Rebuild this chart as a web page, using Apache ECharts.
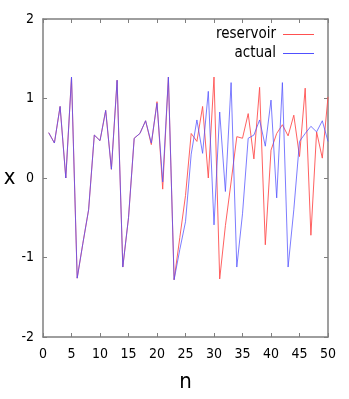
<!DOCTYPE html>
<html>
<head>
<meta charset="utf-8">
<script src="https://cdn.jsdelivr.net/npm/echarts@6/dist/echarts.min.js"></script>
<style>
  html, body { margin: 0; padding: 0; background: #fff; }
  #chart { width: 349px; height: 399px; }
</style>
</head>
<body>
<div id="chart"></div>
<script>
// n = 1..50
const steps = [
  1, 2, 3, 4, 5, 6, 7, 8, 9, 10,
  11, 12, 13, 14, 15, 16, 17, 18, 19, 20,
  21, 22, 23, 24, 25, 26, 27, 28, 29, 30,
  31, 32, 33, 34, 35, 36, 37, 38, 39, 40,
  41, 42, 43, 44, 45, 46, 47, 48, 49, 50
]

const reservoir = [
  0.57, 0.44, 0.90, 0.00, 1.27, -1.26, -0.82, -0.40, 0.54, 0.47,
  0.85, 0.11, 1.23, -1.12, -0.50, 0.50, 0.56, 0.72, 0.42, 0.96,
  -0.14, 1.27, -1.28, -0.75, -0.22, 0.56, 0.46, 0.90, 0.00, 1.27,
  -1.27, -0.60, -0.05, 0.52, 0.50, 0.81, 0.24, 1.14, -0.84, 0.35,
  0.56, 0.67, 0.53, 0.79, 0.27, 1.13, -0.72, 0.58, 0.25, 1.02
]

const actual = [
  0.57, 0.44, 0.90, 0.00, 1.27, -1.26, -0.82, -0.40, 0.54, 0.47,
  0.85, 0.11, 1.23, -1.12, -0.50, 0.50, 0.56, 0.72, 0.44, 0.94,
  -0.05, 1.27, -1.28, -0.90, -0.55, 0.30, 0.73, 0.31, 1.09, -0.59,
  0.83, -0.17, 1.20, -1.12, -0.45, 0.50, 0.54, 0.73, 0.40, 0.98,
  -0.25, 1.20, -1.12, -0.40, 0.46, 0.56, 0.65, 0.58, 0.72, 0.46
]

const font = '"DejaVu Sans Condensed", "Liberation Sans Narrow", "Liberation Sans", sans-serif'
const frame = { color: '#7f7f7f', width: 1.5 }
const tick = { show: true, inside: true, length: 4, lineStyle: { color: '#7f7f7f', width: 1 } }

const chart = echarts.init(document.getElementById('chart'), null, { renderer: 'canvas' })

// mirror axes for the box frame (top and right)
const mirrorAxis = {
  axisLine: { show: true, onZero: false, lineStyle: frame },
  axisTick: tick,
  axisLabel: { show: false },
  splitLine: { show: false }
}

chart.setOption({
  animation: false,
  textStyle: { fontFamily: font },
  grid: { left: 43, right: 21, top: 19, bottom: 62 },
  legend: {
    orient: 'vertical',
    right: 30,
    top: 22,
    align: 'right',
    itemWidth: 31,
    itemHeight: 1,
    itemGap: 4,
    icon: 'rect',
    textStyle: { fontFamily: font, fontSize: 15, color: '#000', padding: [0, 2, 0, 0] },
    data: ['reservoir', 'actual']
  },
  xAxis: [
    {
      type: 'value',
      min: 0,
      max: 50,
      interval: 5,
      position: 'bottom',
      name: 'n',
      nameLocation: 'middle',
      nameGap: 34,
      nameTextStyle: { fontSize: 22, color: '#000', fontFamily: font },
      axisLine: { show: true, onZero: false, lineStyle: frame },
      axisTick: tick,
      axisLabel: { color: '#000', fontSize: 14, margin: 10, fontFamily: font },
      splitLine: { show: false }
    },
    Object.assign({ type: 'value', min: 0, max: 50, interval: 5, position: 'top' }, mirrorAxis)
  ],
  yAxis: [
    {
      type: 'value',
      min: -2,
      max: 2,
      interval: 1,
      position: 'left',
      name: 'x',
      nameLocation: 'middle',
      nameGap: 27,
      nameRotate: 0,
      nameTextStyle: { fontSize: 22, color: '#000', fontFamily: font },
      axisLine: { show: true, onZero: false, lineStyle: frame },
      axisTick: tick,
      axisLabel: { color: '#000', fontSize: 14, margin: 9, fontFamily: font },
      splitLine: { show: false }
    },
    Object.assign({ type: 'value', min: -2, max: 2, interval: 1, position: 'right' }, mirrorAxis)
  ],
  series: [
    {
      name: 'reservoir',
      type: 'line',
      data: steps.map((n, i) => [n, reservoir[i]]),
      showSymbol: false,
      symbol: 'none',
      color: '#ff5050',
      lineStyle: { width: 1, color: '#ff5050', opacity: 0.9 }
    },
    {
      name: 'actual',
      type: 'line',
      data: steps.map((n, i) => [n, actual[i]]),
      showSymbol: false,
      symbol: 'none',
      color: '#5050ff',
      lineStyle: { width: 1, color: '#5050ff', opacity: 0.75 }
    }
  ]
})
</script>
</body>
</html>
